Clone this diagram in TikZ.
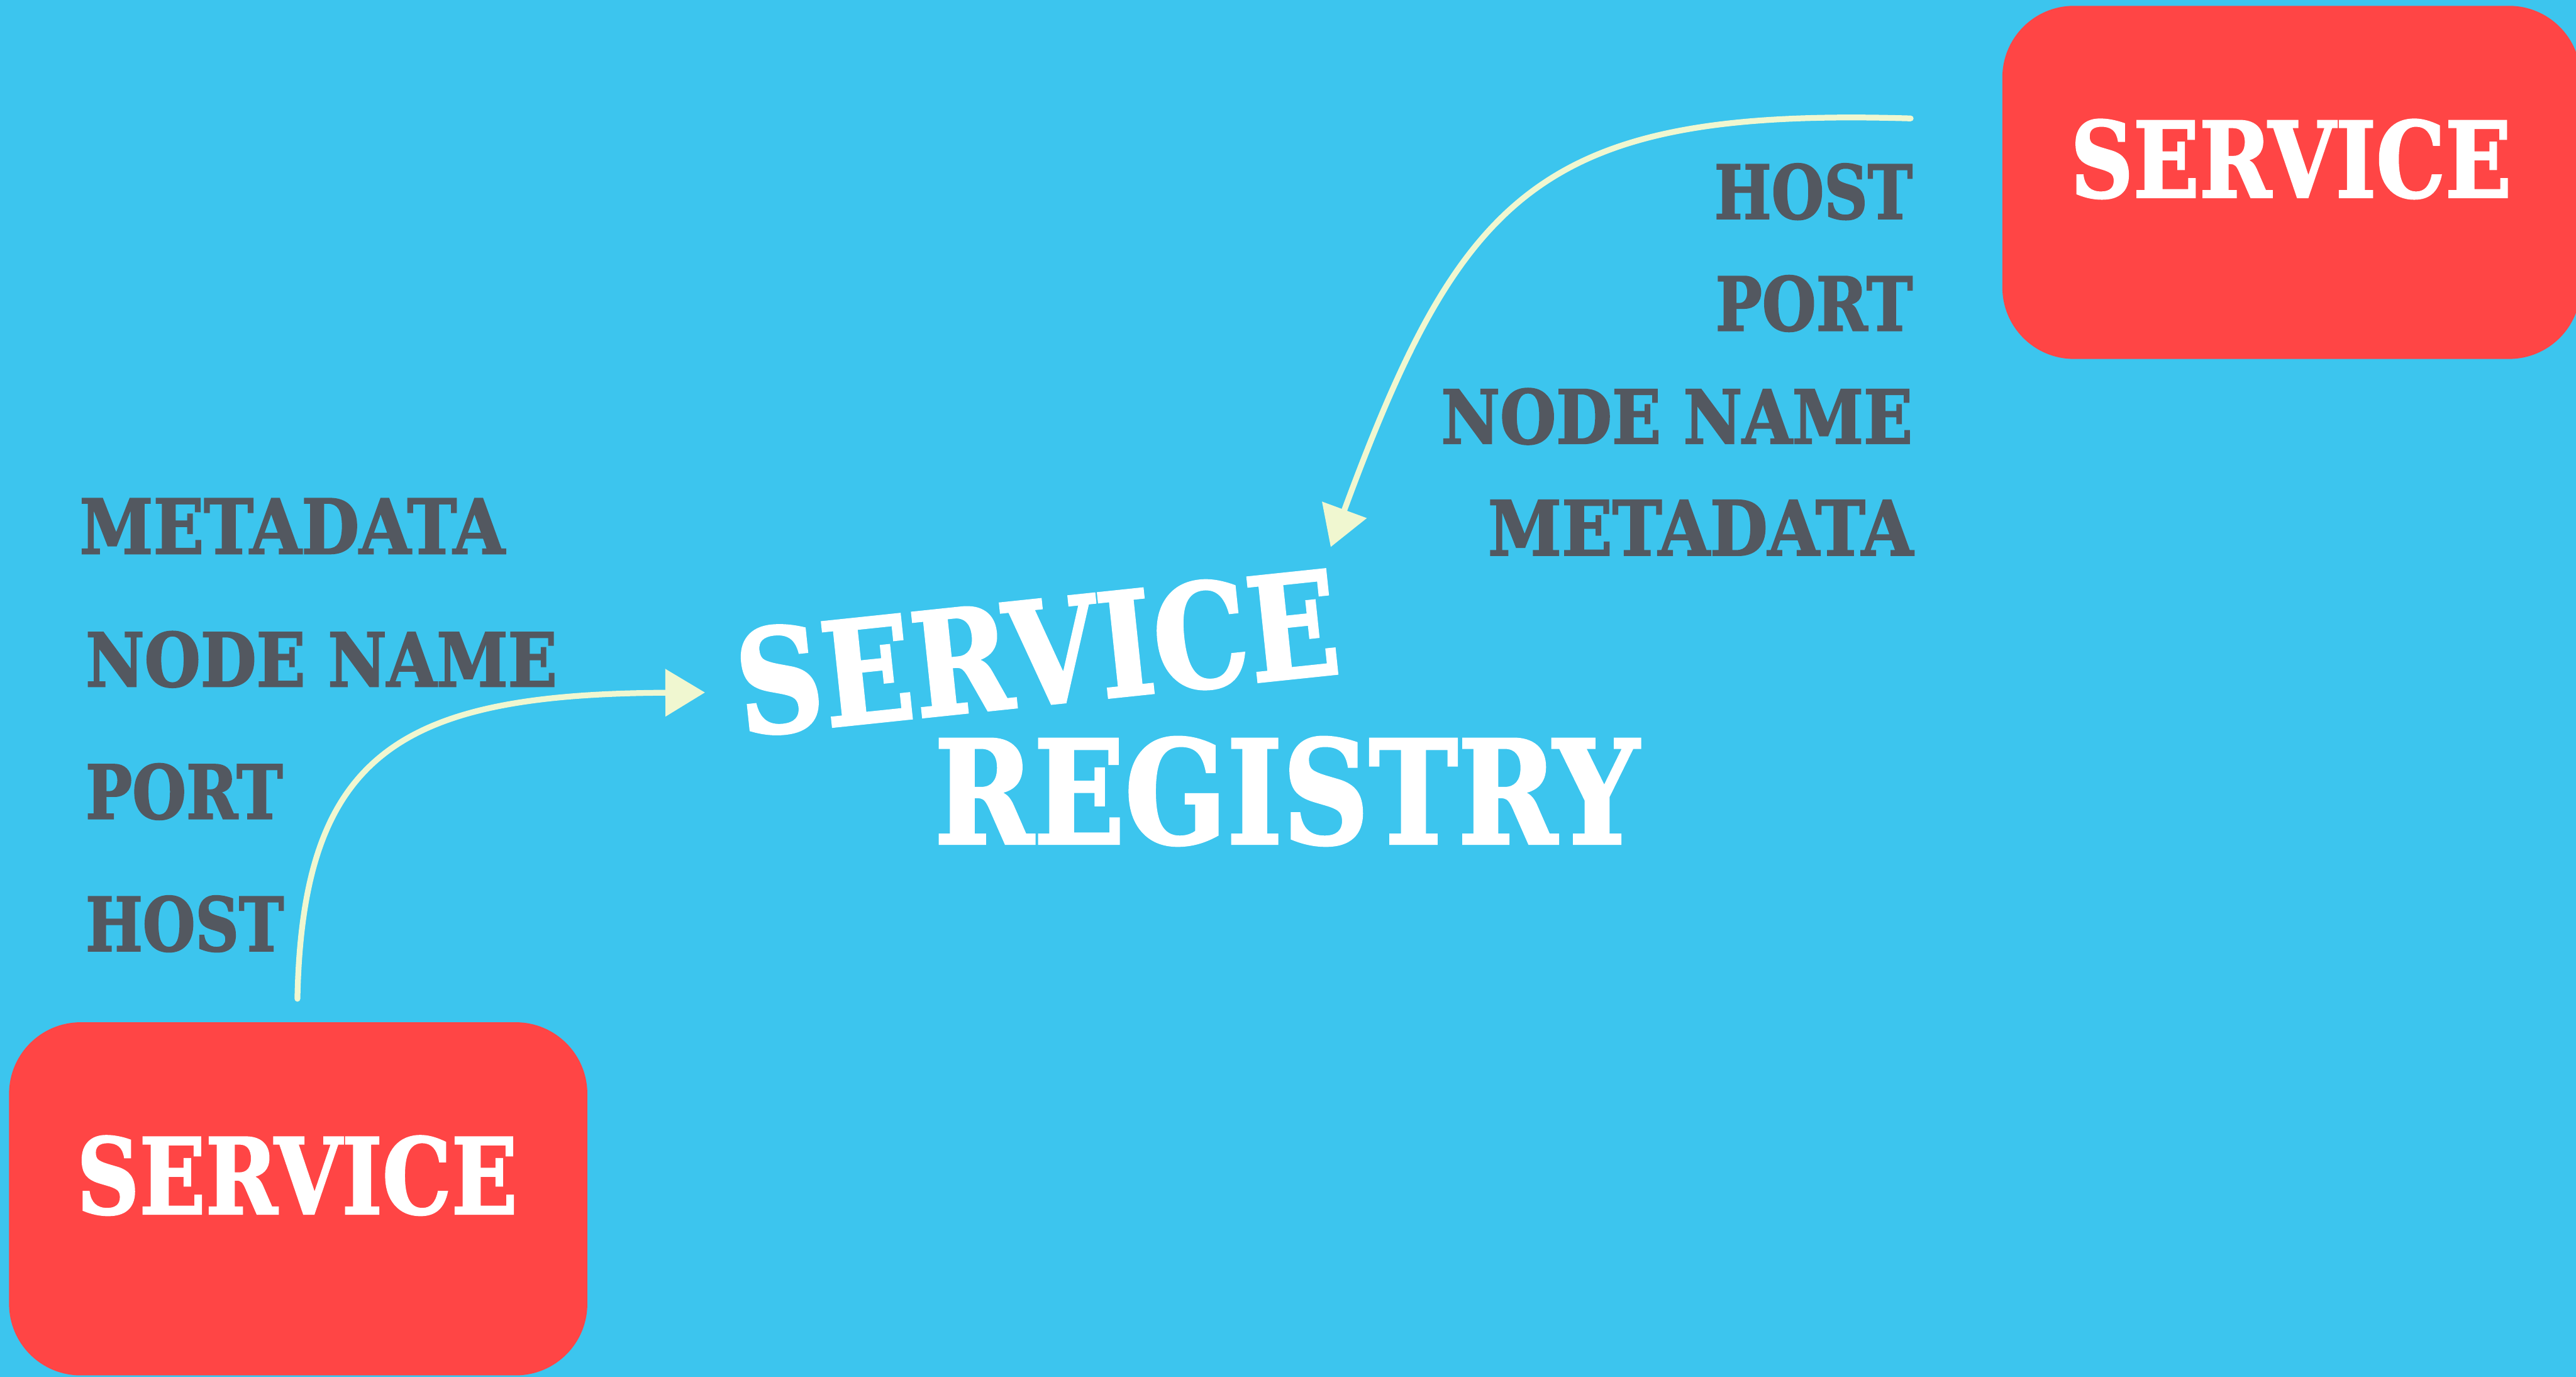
\documentclass[tikz,border=0pt]{standalone}
\usepackage{fontspec}
\setmainfont{DejaVu Serif}[BoldFeatures={FakeBold=2}]
\usepackage{graphicx}
\usetikzlibrary{arrows.meta}

\definecolor{skyblue}{RGB}{60,197,238}
\definecolor{svcred}{RGB}{255,69,69}
\definecolor{fieldgrey}{RGB}{83,88,96}
\definecolor{chalk}{RGB}{240,247,208}

% squeeze a word to the width and cap height it has on the slide
\newcommand{\fitword}[3]{\resizebox{#1}{#2}{\bfseries #3}}

\begin{document}
\begin{tikzpicture}[
    svcbox/.style={fill=svcred, rounded corners=0.65cm, minimum width=5.25cm, minimum height=3.205cm, anchor=south west},
    field/.style={inner sep=0, text=fieldgrey},
    big/.style={inner sep=0, text=white},
    chalkarrow/.style={draw=chalk, line width=1.5pt, line cap=round, -{Triangle[length=0.36cm, width=0.42cm]}}
  ]
    \useasboundingbox (0,0) rectangle (23.385,12.495);
    \fill[skyblue] (0,0) rectangle (23.385,12.495);
    \clip (0,0) rectangle (23.385,12.495);

    % the two services
    \node[svcbox] (svcTop) at (18.17,9.23) {};
    \node[svcbox] (svcBottom) at (0.075,0.005) {};
    \node[big, anchor=base west] (svcTopText) at (18.79,10.705) {\fitword{4.0cm}{0.705cm}{SERVICE}};
    \node[big, anchor=base west] (svcBottomText) at (0.69,1.48) {\fitword{4.0cm}{0.705cm}{SERVICE}};

    % what each one sends
    \node[field, anchor=base east] (hostR) at (17.37,10.51) {\fitword{1.80cm}{0.5cm}{HOST}};
    \node[field, anchor=base east] (portR) at (17.37,9.495) {\fitword{1.79cm}{0.5cm}{PORT}};
    \node[field, anchor=base east] (nameR) at (17.37,8.47) {\fitword{4.28cm}{0.5cm}{NODE NAME}};
    \node[field, anchor=base east] (metaR) at (17.375,7.455) {\fitword{3.86cm}{0.5cm}{METADATA}};

    \node[field, anchor=base west] (metaL) at (0.715,7.47) {\fitword{3.86cm}{0.5cm}{METADATA}};
    \node[field, anchor=base west] (nameL) at (0.77,6.265) {\fitword{4.28cm}{0.5cm}{NODE NAME}};
    \node[field, anchor=base west] (portL) at (0.77,5.065) {\fitword{1.79cm}{0.5cm}{PORT}};
    \node[field, anchor=base west] (hostL) at (0.77,3.865) {\fitword{1.80cm}{0.5cm}{HOST}};

    % registry in the middle
    \node[big, anchor=base west, rotate=6] (regTop) at (6.73,5.815) {\fitword{5.485cm}{0.965cm}{SERVICE}};
    \node[big, anchor=base west] (regBottom) at (8.475,4.84) {\fitword{6.395cm}{0.965cm}{REGISTRY}};

    % registering
    \coordinate (topTail) at (17.345,11.42);
    \coordinate (topTip) at (12.08,7.53);
    \coordinate (bottomTail) at (2.7,3.43);
    \coordinate (bottomTip) at (6.4,6.21);
    \draw[chalkarrow] (topTail) .. controls (14.0,11.52) and (13.275,10.77) .. (topTip);
    \draw[chalkarrow] (bottomTail) .. controls (2.745,5.68) and (3.65,6.195) .. (bottomTip);
\end{tikzpicture}
\end{document}
